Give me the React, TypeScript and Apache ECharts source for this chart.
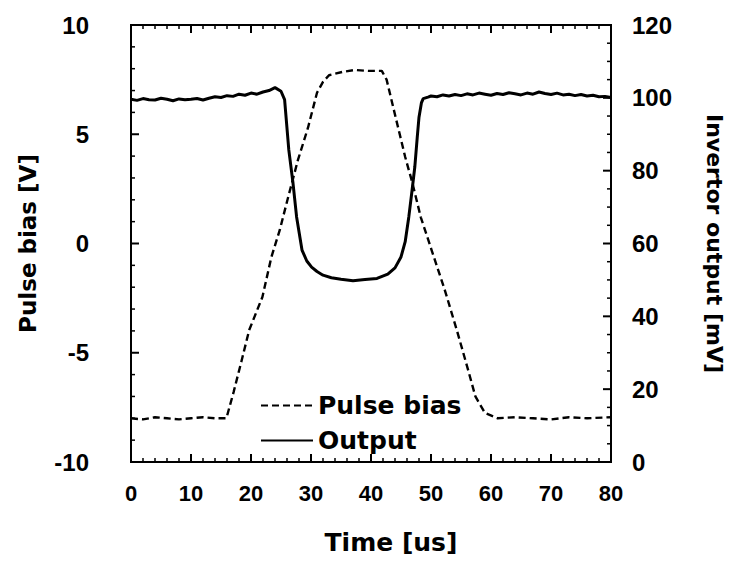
import React, { useEffect, useRef } from "react";
import * as echarts from "echarts";

// Time axis ticks
const timeMin = 0;
const timeMax = 80;
const timeStep = 10;
const xMajorTicks = [0, 10, 20, 30, 40, 50, 60, 70, 80];
const xMinorTicks = [2, 4, 6, 8, 12, 14, 16, 18, 22, 24, 26, 28, 32, 34, 36, 38, 42, 44, 46, 48, 52, 54, 56, 58, 62, 64, 66, 68, 72, 74, 76, 78];

// Left axis ticks (V)
const leftMin = -10;
const leftMax = 10;
const leftStep = 5;
const leftMajorTicks = [-10, -5, 0, 5, 10];
const leftMinorTicks = [-9, -8, -7, -6, -4, -3, -2, -1, 1, 2, 3, 4, 6, 7, 8, 9];

// Right axis ticks (mV)
const rightMin = 0;
const rightMax = 120;
const rightStep = 20;
const rightMajorTicks = [0, 20, 40, 60, 80, 100, 120];
const rightMinorTicks = [5, 10, 15, 25, 30, 35, 45, 50, 55, 65, 70, 75, 85, 90, 95, 105, 110, 115];

// Pulse bias (left axis, V)
const pulseTime = [0, 2, 4, 6, 8, 10, 12, 14, 15.9, 17.1, 18.4, 19.7, 21.9, 23.4, 24.8, 26.2, 27.8, 29.5, 31.0, 32.0, 33.0, 35.2, 37.3, 39.5, 41.8, 42.6, 43.7, 44.9, 45.7, 46.9, 48.3, 50.1, 52.3, 54.3, 56.3, 57.4, 59.0, 61.1, 64, 67, 70, 73, 76, 80];
const pulseVolt = [-8.0, -8.05, -7.95, -8.0, -8.05, -8.0, -7.95, -8.0, -8.0, -6.8, -5.4, -3.96, -2.45, -0.62, 0.62, 2.13, 3.8, 5.3, 6.9, 7.4, 7.7, 7.85, 7.94, 7.9, 7.9, 7.5, 6.24, 4.87, 3.96, 2.77, 1.2, -0.3, -2.13, -3.96, -5.9, -7.0, -7.76, -8.0, -7.95, -8.0, -8.05, -7.95, -8.0, -7.95];

// Inverter output (right axis, mV)
const outTime = [0, 1, 2, 3, 4, 5, 6, 7, 8, 9, 10, 11, 12, 13, 14, 15, 16, 17, 18, 19, 20, 21, 22, 23, 24, 25, 25.6, 26.3, 27.0, 27.6, 28.5, 29.3, 30.1, 31, 32, 33.4, 35, 37, 39, 41, 42.8, 44, 45, 45.7, 46.3, 46.8, 47.3, 47.7, 48.0, 48.4, 48.7, 49.5, 50, 51, 52, 53, 54, 55, 56, 57, 58, 59, 60, 61, 62, 63, 64, 65, 66, 67, 68, 69, 70, 71, 72, 73, 74, 75, 76, 77, 78, 79, 80];
const outMv = [99.6, 99.3, 99.8, 99.5, 99.4, 99.9, 99.6, 99.2, 99.7, 99.5, 99.6, 99.8, 99.4, 99.9, 100.3, 100.1, 100.6, 100.4, 101.0, 100.7, 101.3, 101.0, 101.6, 102.0, 102.8, 101.8, 99.5, 85.7, 76.6, 67.3, 58.2, 55.2, 53.5, 52.3, 51.3, 50.6, 50.2, 49.8, 50.1, 50.4, 51.6, 53.3, 56.3, 60.5, 67.3, 74.0, 81.0, 89.0, 94.7, 98.6, 99.8, 100.2, 100.5, 100.3, 100.8, 100.5, 100.9, 100.6, 101.1, 100.8, 101.3, 101.0, 100.7, 101.2, 100.9, 101.4, 101.1, 100.8, 101.3, 101.0, 101.6, 101.2, 100.9, 101.3, 100.8, 101.0, 100.6, 100.9, 100.5, 100.7, 100.3, 100.4, 100.1];

const seriesNames = ["Pulse bias", "Output"];
const xTitle = "Time [us]";
const leftTitle = "Pulse bias [V]";
const rightTitle = "Invertor output [mV]";

const tickFont = "'Liberation Sans', Arial, sans-serif";
const nameFont = "'DejaVu Sans', sans-serif";

export default function App() {
  const ref = useRef<HTMLDivElement>(null);

  useEffect(() => {
    if (!ref.current) return;
    const chart = echarts.init(ref.current, undefined, { renderer: "svg" });

    const axisLine = () => ({ show: true, onZero: false, lineStyle: { color: "#000" } });

    // Inward tick marks placed through the axes' own scales (api.coord).
    const tickRender = (dx: number, dy: number) => (params: any, api: any) => {
      const p = api.coord([api.value(0), api.value(1)]);
      const major = api.value(2) === 1;
      const len = major ? 8 : 4;
      return {
        type: "line",
        shape: { x1: p[0], y1: p[1], x2: p[0] + dx * len, y2: p[1] + dy * len },
        style: { stroke: "#000", lineWidth: major ? 2 : 1.5 },
      };
    };
    const tickSeries = (xIdx: number, yIdx: number, data: number[][], dx: number, dy: number) => ({
      type: "custom",
      xAxisIndex: xIdx,
      yAxisIndex: yIdx,
      silent: true,
      clip: false,
      z: 5,
      data,
      renderItem: tickRender(dx, dy),
    });

    const option: any = {
      animation: false,
      grid: { left: 131, right: 124, top: 25, bottom: 105, show: true, borderColor: "#000", borderWidth: 2, backgroundColor: "transparent" },
      legend: {
        orient: "vertical",
        left: 255,
        top: 388,
        itemWidth: 52,
        itemHeight: 14,
        itemGap: 10,
        data: seriesNames,
        itemStyle: { opacity: 0 },
        textStyle: { fontFamily: nameFont, fontWeight: "bold", fontSize: 25, color: "#000" },
      },
      xAxis: [
        {
          type: "value",
          min: timeMin,
          max: timeMax,
          interval: timeStep,
          position: "bottom",
          axisLine: axisLine(),
          axisTick: { show: false },
          splitLine: { show: false },
          axisLabel: { margin: 20, fontFamily: tickFont, fontWeight: "bold", fontSize: 22, color: "#000" },
          name: xTitle,
          nameLocation: "middle",
          nameGap: 68,
          nameTextStyle: { fontFamily: nameFont, fontWeight: "bold", fontSize: 25, color: "#000", padding: [0, 0, 0, 40] },
        },
      ],
      yAxis: [
        {
          type: "value",
          min: leftMin,
          max: leftMax,
          interval: leftStep,
          position: "left",
          axisLine: axisLine(),
          axisTick: { show: false },
          splitLine: { show: false },
          axisLabel: { margin: 42, fontFamily: tickFont, fontWeight: "bold", fontSize: 24, color: "#000" },
          name: leftTitle,
          nameLocation: "middle",
          nameGap: 92,
          nameTextStyle: { fontFamily: nameFont, fontWeight: "bold", fontSize: 23, color: "#000" },
        },
        {
          type: "value",
          min: rightMin,
          max: rightMax,
          interval: rightStep,
          position: "right",
          axisLine: axisLine(),
          axisTick: { show: false },
          splitLine: { show: false },
          axisLabel: { margin: 21, fontFamily: tickFont, fontWeight: "bold", fontSize: 24, color: "#000" },
          name: rightTitle,
          nameLocation: "middle",
          nameRotate: -90,
          nameGap: 92,
          nameTextStyle: { fontFamily: nameFont, fontWeight: "bold", fontSize: 22, color: "#000" },
        },
      ],
      series: [
        {
          name: seriesNames[0],
          type: "line",
          xAxisIndex: 0,
          yAxisIndex: 0,
          showSymbol: false,
          symbol: "none",
          data: pulseTime.map((t, i) => [t, pulseVolt[i]]),
          lineStyle: { color: "#000", width: 2.4, type: [7, 4] },
          itemStyle: { color: "#000" },
        },
        {
          name: seriesNames[1],
          type: "line",
          xAxisIndex: 0,
          yAxisIndex: 1,
          showSymbol: false,
          symbol: "none",
          data: outTime.map((t, i) => [t, outMv[i]]),
          lineStyle: { color: "#000", width: 3 },
          itemStyle: { color: "#000" },
        },
        tickSeries(0, 0, xMajorTicks.map((t) => [t, leftMin, 1]).concat(xMinorTicks.map((t) => [t, leftMin, 0])), 0, -1),
        tickSeries(0, 0, xMajorTicks.map((t) => [t, leftMax, 1]).concat(xMinorTicks.map((t) => [t, leftMax, 0])), 0, 1),
        tickSeries(0, 0, leftMajorTicks.map((v) => [timeMin, v, 1]).concat(leftMinorTicks.map((v) => [timeMin, v, 0])), 1, 0),
        tickSeries(0, 1, rightMajorTicks.map((v) => [timeMax, v, 1]).concat(rightMinorTicks.map((v) => [timeMax, v, 0])), -1, 0),
      ],
    };

    chart.setOption(option);
    return () => chart.dispose();
  }, []);

  return (
    <div
      ref={ref}
      style={{ position: "fixed", left: 0, top: 0, width: 735, height: 567, background: "#fff" }}
    />
  );
}
